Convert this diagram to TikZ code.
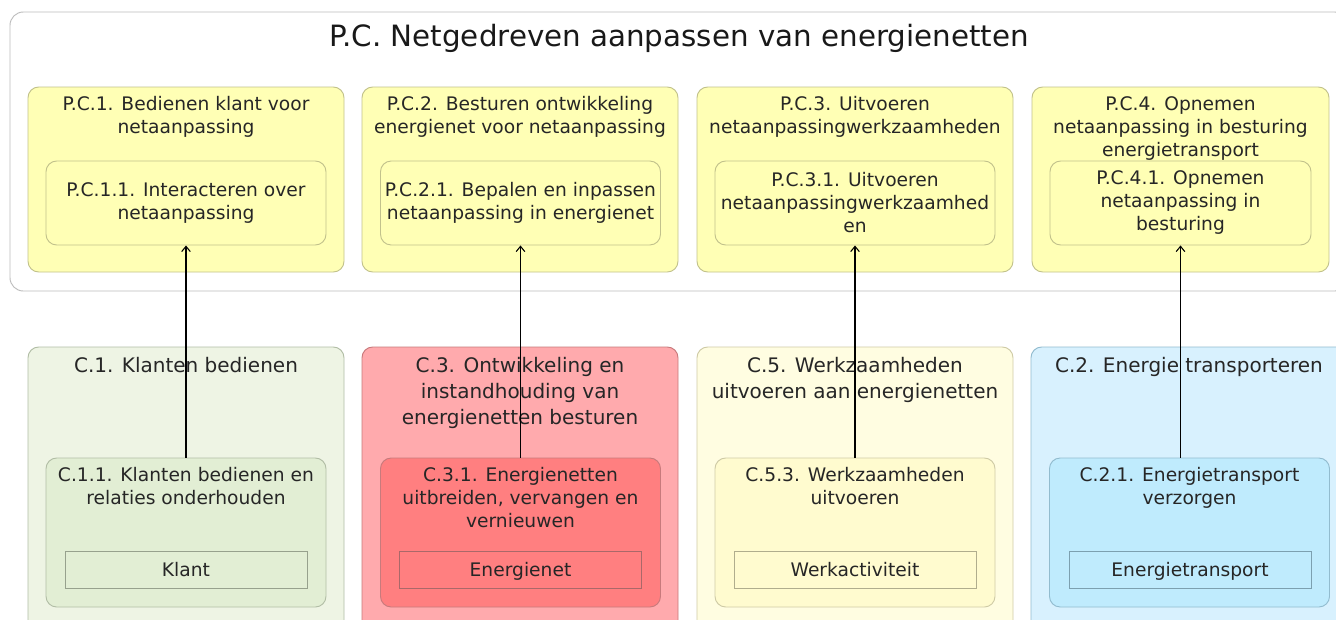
\documentclass[tikz,border=0pt]{standalone}
\usepackage{fontspec}
\setmainfont{DejaVu Sans}
\usetikzlibrary{arrows.meta,positioning}
\definecolor{frameline}{HTML}{BDBDBD}
\definecolor{appfill}{HTML}{FFFFB5}
\definecolor{appline}{HTML}{C2C28C}
\definecolor{klantfill}{HTML}{EEF4E4}
\definecolor{klantinner}{HTML}{E2EED4}
\definecolor{klantline}{HTML}{B2BEA6}
\definecolor{netfill}{HTML}{FFAAAD}
\definecolor{netinner}{HTML}{FF7F80}
\definecolor{netline}{HTML}{C87A7C}
\definecolor{werkfill}{HTML}{FFFDE1}
\definecolor{werkinner}{HTML}{FFFBCF}
\definecolor{werkline}{HTML}{CFCBA6}
\definecolor{transfill}{HTML}{D8F1FE}
\definecolor{transinner}{HTML}{BFEBFD}
\definecolor{transline}{HTML}{92BCCF}

\begin{document}
\begin{tikzpicture}[x=0.75pt,y=-0.75pt,
  txt/.style={font=\fontsize{14}{17.25}\selectfont,text=black!85,align=center,inner sep=0pt},
  bigtxt/.style={font=\fontsize{15}{19.5}\selectfont,text=black!85,align=center,inner sep=0pt},
  box/.style 2 args={rectangle,draw=#1,fill=#2,rounded corners=8pt,line width=0.7pt,inner sep=0pt},
  topbox/.style={box={appline}{appfill},minimum width=237pt,minimum height=138.75pt},
  topsub/.style={box={appline}{appfill},minimum width=210pt,minimum height=63pt,txt},
  capbox/.style 2 args={box={#1}{#2},minimum width=237pt,minimum height=217.5pt},
  capsub/.style 2 args={box={#1}{#2},minimum width=210pt,minimum height=111.75pt},
  dataobj/.style 2 args={rectangle,draw=#1,fill=#2,line width=0.7pt,minimum width=181.5pt,minimum height=27.75pt,txt,text height=10.7pt,text depth=0pt},
  head/.style={txt},
  bighead/.style={bigtxt},
  flow/.style={-{Straight Barb[length=4pt,width=6.5pt]},line width=0.8pt}]
  \useasboundingbox (0,0) rectangle (1336,619);
  \clip (0,0) rectangle (1336,619);
  \fill[white] (0,0) rectangle (1336,619);

  \node[box={frameline}{white},rounded corners=10pt,minimum width=1003.5pt,minimum height=209.25pt] (pc) at (679,151.5) {};
  \node[font=\fontsize{22}{26}\selectfont,text=black!90,anchor=base] (pctitle) at (679,46) {P.C. Netgedreven aanpassen van energienetten};

  \node[topbox] (pc1) at (186,179.5) {};
  \node[topbox] (pc2) at (520,179.5) {};
  \node[topbox] (pc3) at (855,179.5) {};
  \node[topbox,minimum width=222.75pt] (pc4) at (1180.5,179.5) {};
  \node[head,below=7.1pt of pc1.north] (pc1t) {P.C.1. Bedienen klant voor\\netaanpassing};
  \node[head,below=7.1pt of pc2.north] (pc2t) {P.C.2. Besturen ontwikkeling\\energienet voor netaanpassing};
  \node[head,below=7.1pt of pc3.north] (pc3t) {P.C.3. Uitvoeren\\netaanpassingwerkzaamheden};
  \node[head,below=7.1pt of pc4.north] (pc4t) {P.C.4. Opnemen\\netaanpassing in besturing\\energietransport};
  \node[topsub] (pc11) at (186,203) {P.C.1.1. Interacteren over\\netaanpassing};
  \node[topsub] (pc21) at (520.5,203) {P.C.2.1. Bepalen en inpassen\\netaanpassing in energienet};
  \node[topsub] (pc31) at (855,203) {P.C.3.1. Uitvoeren\\netaanpassingwerkzaamhed\\en};
  \node[topsub,minimum width=195.75pt] (pc41) at (1180.5,203) {P.C.4.1. Opnemen\\netaanpassing in\\besturing};

  \node[capbox={klantline}{klantfill}] (c1) at (186,492) {};
  \node[capbox={netline}{netfill}] (c3) at (520,492) {};
  \node[capbox={werkline}{werkfill}] (c5) at (855,492) {};
  \node[capbox={transline}{transfill}] (c2) at (1189,492) {};
  \node[bighead,below=7.9pt of c1.north] (c1t) {C.1. Klanten bedienen};
  \node[bighead,below=7.9pt of c3.north] (c3t) {C.3. Ontwikkeling en\\instandhouding van\\energienetten besturen};
  \node[bighead,below=7.9pt of c5.north] (c5t) {C.5. Werkzaamheden\\uitvoeren aan energienetten};
  \node[bighead,below=7.9pt of c2.north] (c2t) {C.2. Energie transporteren};

  \node[capsub={klantline}{klantinner}] (c11) at (186,532.5) {};
  \node[capsub={netline}{netinner}] (c31) at (520.5,532.5) {};
  \node[capsub={werkline}{werkinner}] (c53) at (855,532.5) {};
  \node[capsub={transline}{transinner}] (c21) at (1189.5,532.5) {};
  \node[head,below=7.3pt of c11.north] (c11t) {C.1.1. Klanten bedienen en\\relaties onderhouden};
  \node[head,below=7.3pt of c31.north] (c31t) {C.3.1. Energienetten\\uitbreiden, vervangen en\\vernieuwen};
  \node[head,below=7.3pt of c53.north] (c53t) {C.5.3. Werkzaamheden\\uitvoeren};
  \node[head,below=7.3pt of c21.north] (c21t) {C.2.1. Energietransport\\verzorgen};
  \node[dataobj={klantline!85!black}{klantinner}] (klant) at (186,569.5) {Klant};
  \node[dataobj={netline!85!black}{netinner}] (energienet) at (520.5,569.5) {Energienet};
  \node[dataobj={werkline!85!black}{werkinner}] (werkact) at (855,569.5) {Werkactiviteit};
  \node[dataobj={transline!85!black}{transinner}] (transport) at (1190,569.5) {Energietransport};

  \draw[flow] (c11.north) -- (pc11.south);
  \draw[flow] (c31.north) -- (pc21.south);
  \draw[flow] (c53.north) -- (pc31.south);
  \draw[flow] (c21.north -| pc41.south) -- (pc41.south);
\end{tikzpicture}
\end{document}
